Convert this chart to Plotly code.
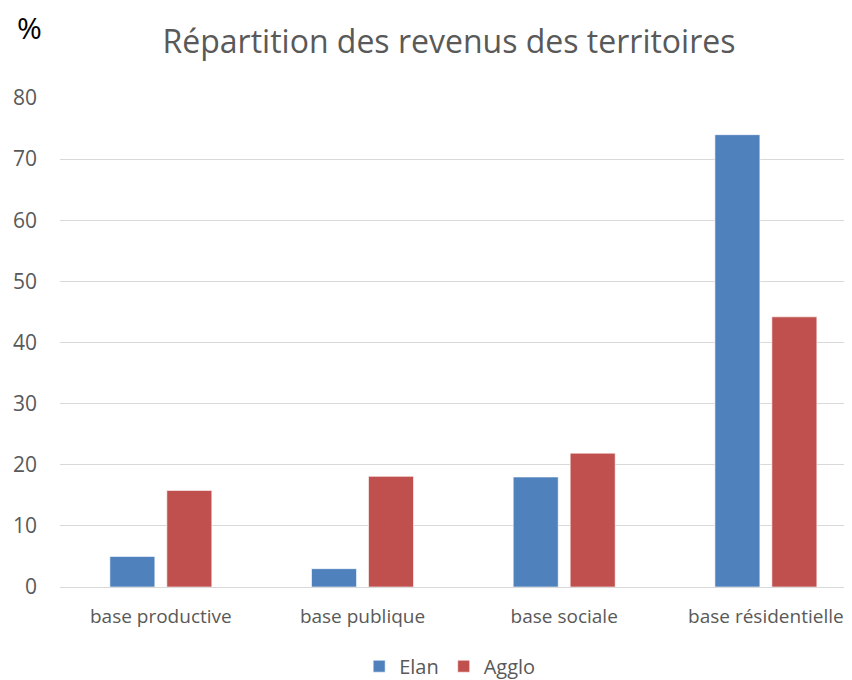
import plotly.graph_objects as go

categories = ["base productive", "base publique", "base sociale", "base résidentielle"]
elan = [5, 3, 18, 74]
agglo = [15.8, 18.1, 21.9, 44.2]
series_names = ["Elan", "Agglo"]
y_ticks = [0, 10, 20, 30, 40, 50, 60, 70, 80]

FONT = "Open Sans"
GREY = "#595959"

# the page body adds an 8px offset; figure is sized/offset to compensate
fig = go.Figure()
fig.add_trace(go.Bar(x=categories, y=elan, name=series_names[0],
                     marker=dict(color="#4F81BD", line=dict(color="rgba(255,255,255,0.6)", width=1))))
fig.add_trace(go.Bar(x=categories, y=agglo, name=series_names[1],
                     marker=dict(color="#C0504D", line=dict(color="rgba(255,255,255,0.6)", width=1))))

fig.update_layout(
    width=844, height=672,
    margin=dict(l=52, r=0, t=90, b=93, autoexpand=False),
    paper_bgcolor="white", plot_bgcolor="white",
    barmode="group", bargap=0.435, bargroupgap=0.21,
    font=dict(family=FONT, color=GREY, size=20),
    title=dict(text="Répartition des revenus des territoires", x=441 / 844, xanchor="center",
               y=1 - 34 / 672, yanchor="middle",
               font=dict(family=FONT, size=32, color=GREY)),
    showlegend=True,
    legend=dict(orientation="h", x=0.492, xanchor="center", y=-0.162, yanchor="middle",
                font=dict(family=FONT, size=20, color=GREY), itemwidth=30,
                traceorder="normal"),
    xaxis=dict(range=[-0.5, 3.427], showgrid=False, showline=False, zeroline=False,
               automargin=False,
               ticks="", ticklabelstandoff=16, tickfont=dict(family=FONT, size=19, color=GREY)),
    yaxis=dict(range=[0, 80], tickvals=y_ticks, showgrid=True, gridcolor="#D9D9D9", gridwidth=1,
               zeroline=True, zerolinecolor="#D9D9D9", zerolinewidth=1, showline=False,
               automargin=False,
               ticks="", ticklabelstandoff=22, tickfont=dict(family=FONT, size=21, color=GREY)),
    annotations=[dict(text="%", x=(29 - 60) / 792, y=(587 - 27) / 489, xref="paper", yref="paper",
                      xanchor="center", yanchor="middle", showarrow=False,
                      font=dict(family=FONT, size=30, color="black"))],
)
fig.write_html("out.html")
